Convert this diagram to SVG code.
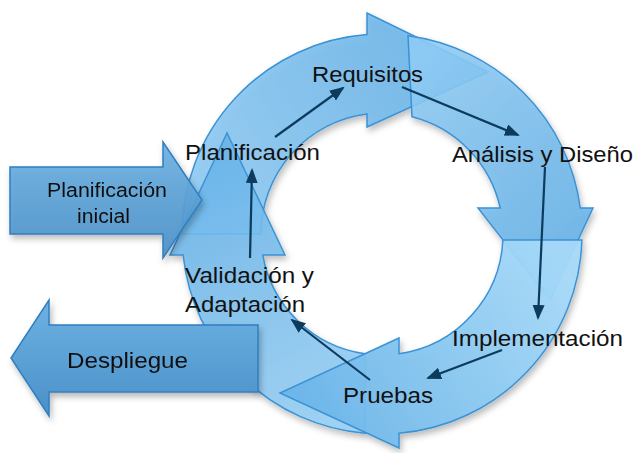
<svg xmlns="http://www.w3.org/2000/svg" width="640" height="453" viewBox="0 0 640 453">
  <defs>
    <style>
      .ring { stroke: #3b93d5; stroke-width: 1.5; fill-opacity: 0.88; stroke-linejoin: miter; }
      .side { stroke: #2f7fc1; stroke-width: 1.5; stroke-linejoin: miter; }
      .lbl { font-family: "Liberation Sans", Arial, Helvetica, sans-serif; font-size: 22px; fill: #111111; }
      .lbl2 { font-family: "Liberation Sans", Arial, Helvetica, sans-serif; font-size: 20px; fill: #111111; }
      .conn { stroke: #0c3b5d; stroke-width: 2.2; fill: none; marker-end: url(#ah); }
    </style>
    <marker id="ah" markerUnits="userSpaceOnUse" markerWidth="16" markerHeight="14" refX="13" refY="6" orient="auto">
      <path d="M0 0 L15 6 L0 12 Z" fill="#0c3b5d"/>
    </marker>
    <filter id="sh" x="-10%" y="-10%" width="125%" height="125%">
      <feDropShadow dx="2" dy="4" stdDeviation="3" flood-color="#000" flood-opacity="0.28"/>
    </filter>
    <linearGradient id="g1" gradientUnits="userSpaceOnUse" x1="220" y1="240" x2="470" y2="70">
      <stop offset="0" stop-color="#8fcbf4"/>
      <stop offset="1" stop-color="#68b3e8"/>
    </linearGradient>
    <linearGradient id="g2" gradientUnits="userSpaceOnUse" x1="410" y1="70" x2="560" y2="250">
      <stop offset="0" stop-color="#8fcbf4"/>
      <stop offset="1" stop-color="#68b3e8"/>
    </linearGradient>
    <linearGradient id="g3" gradientUnits="userSpaceOnUse" x1="545" y1="245" x2="300" y2="400">
      <stop offset="0" stop-color="#a6d9f9"/>
      <stop offset="1" stop-color="#6cb6e9"/>
    </linearGradient>
    <linearGradient id="g4" gradientUnits="userSpaceOnUse" x1="360" y1="400" x2="225" y2="150">
      <stop offset="0" stop-color="#96cff5"/>
      <stop offset="1" stop-color="#68b3e8"/>
    </linearGradient>
    <linearGradient id="gs" x1="0" y1="0" x2="0" y2="1">
      <stop offset="0" stop-color="#6eb2e3"/>
      <stop offset="1" stop-color="#4a90c8"/>
    </linearGradient>
  </defs>

  <rect x="0" y="0" width="640" height="453" fill="#ffffff"/>

  <g id="ciclo" filter="url(#sh)">
    <path id="arco-requisitos" class="ring" fill="url(#g1)" d="M182 234 A200 200 0 0 1 367 34.6 L367 13 L488 72 L367 127 L367 114 A121 121 0 0 0 261 234 Z"/>
    <path id="arco-analisis" class="ring" fill="url(#g2)" d="M408 35.7 A200 200 0 0 1 580.3 208 L593 208 L550 300 L478 208 L500.2 208 A121 121 0 0 0 412 116.8 Z"/>
    <path id="arco-validacion" class="ring" fill="url(#g4)" d="M365 433.3 A200 200 0 0 1 183.1 255 L170 255 L227 133 L285 255 L262.8 255 A121 121 0 0 0 365 353.8 Z"/>
    <path id="arco-implementacion" class="ring" fill="url(#g3)" style="fill-opacity:0.94" d="M581.9 240 A200 200 0 0 1 399 433.3 L399 448 L280 393 L399 338 L399 353.8 A121 121 0 0 0 502.9 240 Z"/>
  </g>

  <g id="planificacion-inicial" filter="url(#sh)">
    <path class="side" fill="url(#gs)" fill-opacity="0.92" d="M10 167 L163 167 L163 142 L202 200 L163 258 L163 234 L10 234 Z"/>
    <text class="lbl2" x="47" y="197" textLength="120" lengthAdjust="spacingAndGlyphs">Planificación</text>
    <text class="lbl2" x="77" y="223" textLength="53" lengthAdjust="spacingAndGlyphs">inicial</text>
  </g>

  <g id="despliegue" filter="url(#sh)">
    <path class="side" fill="url(#gs)" d="M258 325 L49 325 L49 300 L11 358 L49 416 L49 392 L258 392 Z"/>
    <text class="lbl" x="67" y="368" textLength="121" lengthAdjust="spacingAndGlyphs">Despliegue</text>
  </g>

  <g id="connectors">
    <line class="conn" x1="275" y1="137" x2="343" y2="88"/>
    <line class="conn" x1="402" y1="87" x2="518" y2="135"/>
    <line class="conn" x1="545" y1="167" x2="538" y2="318"/>
    <line class="conn" x1="502" y1="350" x2="428" y2="378"/>
    <line class="conn" x1="370" y1="380" x2="292" y2="320"/>
    <line class="conn" x1="250" y1="258" x2="252" y2="170"/>
  </g>

  <g id="n-requisitos">
    <text class="lbl" x="312" y="82" textLength="111" lengthAdjust="spacingAndGlyphs">Requisitos</text>
  </g>
  <g id="n-analisis">
    <text class="lbl" x="452" y="162" textLength="181" lengthAdjust="spacingAndGlyphs">Análisis y Diseño</text>
  </g>
  <g id="n-implementacion">
    <text class="lbl" x="452" y="346" textLength="171" lengthAdjust="spacingAndGlyphs">Implementación</text>
  </g>
  <g id="n-pruebas">
    <text class="lbl" x="343" y="403" textLength="90" lengthAdjust="spacingAndGlyphs">Pruebas</text>
  </g>
  <g id="n-validacion">
    <text class="lbl" x="185" y="283" textLength="129" lengthAdjust="spacingAndGlyphs">Validación y</text>
    <text class="lbl" x="185" y="312" textLength="120" lengthAdjust="spacingAndGlyphs">Adaptación</text>
  </g>
  <g id="n-planificacion">
    <text class="lbl" x="185" y="160" textLength="135" lengthAdjust="spacingAndGlyphs">Planificación</text>
  </g>
</svg>
